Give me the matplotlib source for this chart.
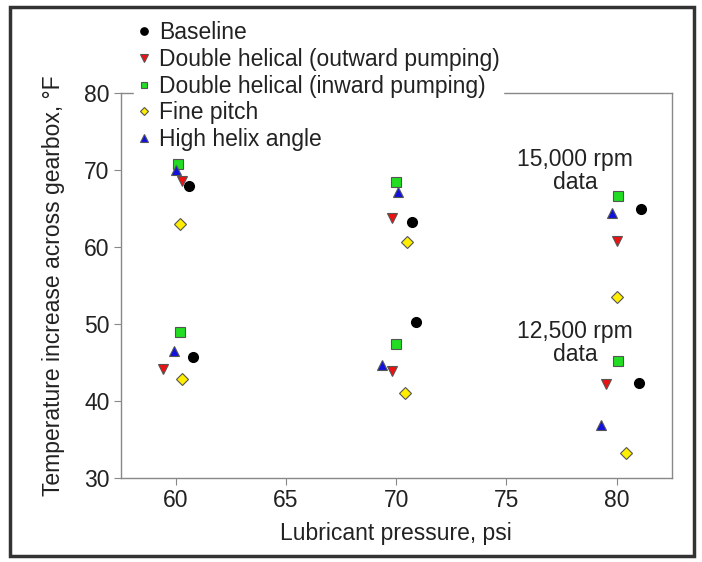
import matplotlib
matplotlib.use("Agg")
from matplotlib import pyplot as plt
from matplotlib.patches import Rectangle

plt.rcParams['font.family'] = ['Liberation Sans', 'DejaVu Sans']

# data (psi, deg F)
baseline_x = [60.6, 70.7, 81.1, 60.8, 70.9, 81.0]
baseline_y = [67.9, 63.2, 64.9, 45.7, 50.2, 42.3]

outward_x = [60.3, 69.8, 80.0, 59.4, 69.8, 79.5]
outward_y = [68.6, 63.8, 60.7, 44.1, 43.9, 42.2]

inward_x = [60.1, 70.0, 80.05, 60.2, 70.0, 80.05]
inward_y = [70.7, 68.4, 66.6, 48.9, 47.4, 45.2]

fine_x = [60.2, 70.5, 80.0, 60.3, 70.4, 80.4]
fine_y = [62.9, 60.6, 53.5, 42.85, 41.0, 33.3]

helix_x = [60.0, 70.1, 79.8, 59.9, 69.35, 79.3]
helix_y = [70.0, 67.1, 64.4, 46.5, 44.7, 36.9]

x_ticks = [60, 65, 70, 75, 80]
y_ticks = [30, 40, 50, 60, 70, 80]

FS = 16.5


def main():
    fig = plt.figure(figsize=(7.02, 5.62), dpi=100)
    ax = fig.add_axes([0.172, 0.1495, 0.785, 0.6855])

    kw = dict(linestyle='none', zorder=6, clip_on=True)
    ax.plot(baseline_x, baseline_y, 'o', color='black', mec='black', ms=7,
            label='Baseline', **kw)
    ax.plot(outward_x, outward_y, 'v', color='#ee1111', mec='#555555', mew=0.8, ms=7,
            label='Double helical (outward pumping)', **kw)
    ax.plot(inward_x, inward_y, 's', color='#22dd22', mec='#555555', mew=0.8, ms=6.5,
            label='Double helical (inward pumping)', **kw)
    ax.plot(fine_x, fine_y, 'D', color='#ffee00', mec='#555555', mew=0.8, ms=6,
            label='Fine pitch', **kw)
    ax.plot(helix_x, helix_y, '^', color='#1111dd', mec='#555555', mew=0.8, ms=7,
            label='High helix angle', **kw)

    ax.set_xlim(57.5, 82.5)
    ax.set_ylim(30, 80)
    ax.set_xticks(x_ticks)
    ax.set_yticks(y_ticks)
    for s in ax.spines.values():
        s.set_color('#888888')
        s.set_linewidth(1.0)
    ax.tick_params(direction='out', length=5, color='#888888', labelsize=FS,
                   labelcolor='#222222', pad=3)

    ax.set_xlabel('Lubricant pressure, psi', fontsize=FS, color='#222222', labelpad=7)
    ax.set_ylabel('Temperature increase across gearbox, °F', fontsize=FS,
                  color='#222222', labelpad=14)

    ax.text(78.1, 69.8, '15,000 rpm\ndata', ha='center', va='center', fontsize=FS,
            color='#222222', linespacing=1.0)
    ax.text(78.1, 47.5, '12,500 rpm\ndata', ha='center', va='center', fontsize=FS,
            color='#222222', linespacing=1.0)

    leg = ax.legend(loc='upper left', bbox_to_anchor=(134 / 702, 1 - 18 / 562),
                    bbox_transform=fig.transFigure, fontsize=FS, markerscale=0.75,
                    handlelength=0.6, handletextpad=0.35, labelspacing=0.16,
                    borderpad=0.15, borderaxespad=0, frameon=True, fancybox=False)
    leg.get_frame().set_facecolor('white')
    leg.get_frame().set_edgecolor('white')
    leg.get_frame().set_alpha(1)
    for t in leg.get_texts():
        t.set_color('#222222')

    # dark outer frame round the whole figure
    fig.patches.append(Rectangle((10 / 702, 6 / 562), 684 / 702, 549 / 562,
                                 transform=fig.transFigure, fill=False,
                                 edgecolor='#333333', linewidth=2.5))

    fig.savefig('out.png', dpi=100)


if __name__ == '__main__':
    main()
